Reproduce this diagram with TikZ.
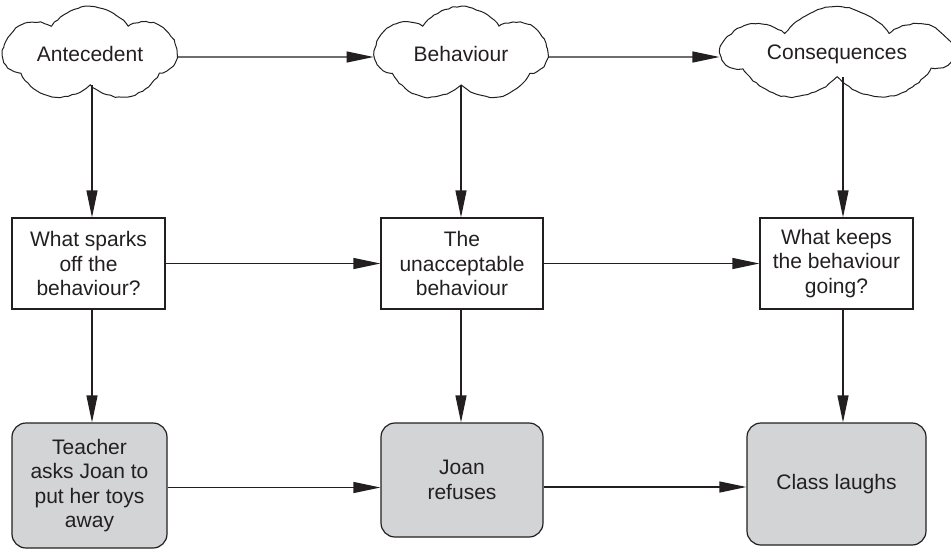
\documentclass[tikz,border=0pt]{standalone}
\usepackage{fontspec}
\setmainfont{Liberation Sans}
\usetikzlibrary{shapes.symbols,arrows.meta,decorations.pathmorphing}
\definecolor{ink}{RGB}{35,31,32}
\definecolor{boxgray}{RGB}{211,212,214}
\begin{document}
\begin{tikzpicture}[x=1pt,y=-1pt,
  font=\fontsize{21}{24.6}\selectfont,
  thought/.style={cloud, cloud puffs=7, cloud puff arc=110, cloud ignores aspect,
    draw=ink, line width=1pt, inner sep=0pt, text=ink,
    decorate, decoration={random steps,segment length=4pt,amplitude=0.6pt}},
  question/.style={rectangle, draw=ink, line width=1.2pt, align=center, text=ink,
    inner sep=0pt, minimum height=91pt},
  example/.style={rectangle, rounded corners=14pt, fill=boxgray, draw=ink,
    line width=1.2pt, align=center, text=ink, inner sep=0pt},
  link/.style={draw=ink, line width=1.2pt, -{Triangle[length=27pt,width=11pt]}}
]
\useasboundingbox (0,0) rectangle (951,550);

\node[thought, minimum width=173pt, minimum height=95pt] (c1) at (90,54) {Antecedent};
\node[thought, minimum width=172pt, minimum height=95pt] (c2) at (461,54) {Behaviour};
\node[thought, minimum width=227pt, minimum height=95pt] (c3) at (837,54) {Consequences};

\node[question, minimum width=153pt] (b1) at (88.5,263.5) {What sparks\\off the\\behaviour?};
\node[question, minimum width=162pt] (b2) at (462,263.5) {The\\unacceptable\\behaviour};
\node[question, minimum width=153pt] (b3) at (836.5,263.5) {What keeps\\the behaviour\\going?};

\node[example, minimum width=155pt, minimum height=125pt] (r1) at (89.5,485.5) {Teacher\\asks Joan to\\put her toys\\away};
\node[example, minimum width=162pt, minimum height=114pt] (r2) at (462,480) {Joan\\refuses};
\node[example, minimum width=179pt, minimum height=122pt] (r3) at (836.5,484) {Class laughs};

\coordinate (k1) at ([xshift=2pt]c1.south);
\coordinate (k2) at (c2.south);
\coordinate (k3) at ([xshift=6pt]c3.south);

\draw[link] ([yshift=-3pt]c1.east) -- ([yshift=-3pt]c2.west);
\draw[link] ([yshift=-3pt]c2.east) -- ([yshift=-3pt]c3.west);
\draw[link] (b1.east) -- (b2.west);
\draw[link] (b2.east) -- (b3.west);
\draw[link] ([yshift=-2pt]r1.east) -- ([yshift=-2pt]r1.east -| r2.west);
\draw[link] ([yshift=-7pt]r2.east) -- ([yshift=-7pt]r2.east -| r3.west);

\draw[link] (k1) -- (k1 |- b1.north);
\draw[link] (k2) -- (k2 |- b2.north);
\draw[link] (k3) -- (k3 |- b3.north);
\draw[link] (k1 |- b1.south) -- (k1 |- r1.north);
\draw[link] (k2 |- b2.south) -- (k2 |- r2.north);
\draw[link] (k3 |- b3.south) -- (k3 |- r3.north);
\end{tikzpicture}
\end{document}
